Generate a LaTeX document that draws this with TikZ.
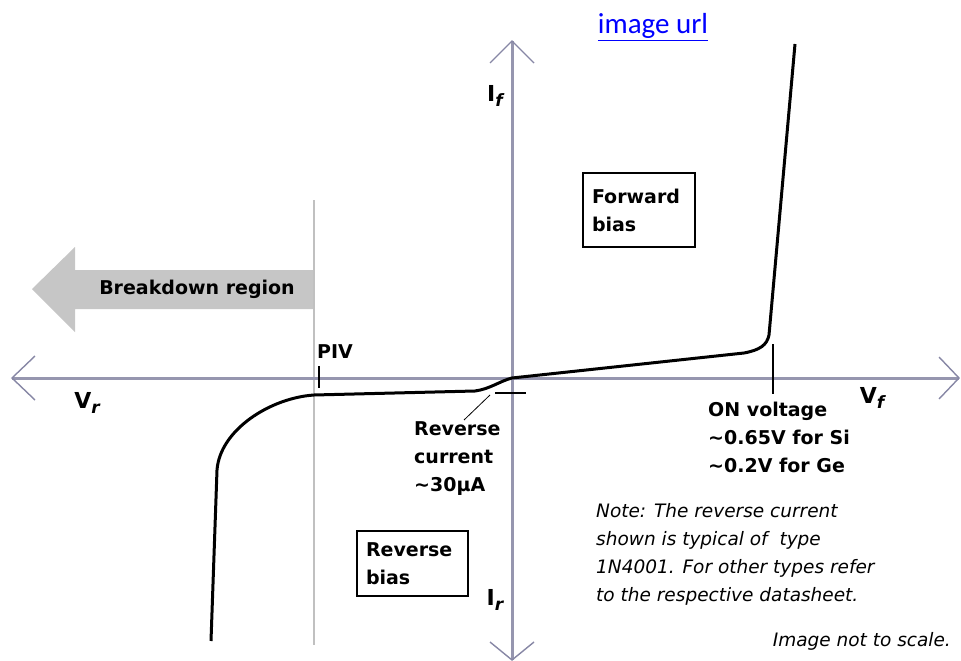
\documentclass[tikz,border=0pt]{standalone}
\usepackage{fontspec}
\setmainfont{DejaVu Sans}
\newfontfamily\linkfont{Carlito}
\definecolor{axisgray}{RGB}{150,150,175}
\definecolor{armgray}{RGB}{135,135,165}
\definecolor{pivgray}{RGB}{192,192,192}
\definecolor{bdgray}{RGB}{198,198,198}
\definecolor{linkblue}{RGB}{0,0,255}
\newcommand{\axlbl}[2]{#1\raisebox{-5pt}{\fontsize{17}{17}\selectfont\itshape #2}}
\begin{document}
\begin{tikzpicture}[x=1pt,y=1pt]
\tikzstyle{every node}+=[inner sep=0pt]
\tikzstyle{axis}=[draw=axisgray, line width=3pt]
\tikzstyle{arm}=[draw=armgray, line width=1.4pt]
\tikzstyle{lbl}=[font=\fontsize{19}{28}\selectfont\bfseries, align=left]
\tikzstyle{axtext}=[font=\fontsize{22}{24}\selectfont\bfseries]
\tikzstyle{notetext}=[font=\fontsize{18.5}{28}\selectfont\itshape, align=left]
\tikzstyle{biasbox}=[lbl, draw=black, line width=1.3pt, inner xsep=9pt]
\useasboundingbox (0,0) rectangle (961,-661);
% axis tips
\coordinate (vl) at (12,-378);
\coordinate (vr) at (959,-378);
\coordinate (it) at (512,-41);
\coordinate (ib) at (512,-660);
% breakdown arrow and PIV line
\fill [bdgray] (314,-270) -- (75,-270) -- (75,-247) -- (32,-289) -- (75,-332) -- (75,-309) -- (314,-309) -- cycle;
\draw (197,-289) node [lbl] (bd) {Breakdown region};
\draw [pivgray, line width=2.2pt] (314,-200) -- (314,-645);
% axes
\draw [axis] (vl) -- (vr);
\draw [axis] (ib) -- (it);
\draw [arm] (vl) ++(23,22) -- (vl) -- ++(23,-22);
\draw [arm] (vr) ++(-20,21) -- (vr) -- ++(-20,-21);
\draw [arm] (it) ++(-22,-22) -- (it) -- ++(22,-22);
\draw [arm] (ib) ++(-22,18) -- (ib) -- ++(22,18);
\draw (872,-398) node [axtext] (vf) {\axlbl{V}{f}};
\draw (87,-403) node [axtext] (vrl) {\axlbl{V}{r}};
\draw (495,-96) node [axtext] (ifl) {\axlbl{I}{f}};
\draw (495,-600) node [axtext] (irl) {\axlbl{I}{r}};
% characteristic
\draw [black, line width=3pt, line join=round] (211,-641) -- (217,-470) .. controls (220,-430) and (270,-398) .. (314,-395)
  -- (475,-391) .. controls (490,-389) and (500,-381) .. (512,-378)
  -- (744,-353) .. controls (760,-350) and (767,-345) .. (769,-335) -- (795,-44);
% ticks
\draw [black, line width=1.2pt] (319,-366) -- (319,-388);
\draw (317,-352) node [lbl, anchor=west] (piv) {PIV};
\draw [black, line width=1.2pt] (773,-344) -- (773,-394);
\draw (708,-437) node [lbl, anchor=west] (onv) {ON voltage\\\textasciitilde0.65V for Si\\\textasciitilde0.2V for Ge};
\draw [black, line width=1.2pt] (495,-393) -- (526,-393);
\coordinate (leadA) at (464,-420);
\coordinate (leadB) at (490,-395);
\draw [black, line width=0.8pt] (leadA) -- (leadB);
\draw (414,-459) node [lbl, anchor=west] (rc) {Reverse\\current\\\textasciitilde30µA};
% bias boxes
\draw (639,-210) node [biasbox, text width=94pt, minimum height=74pt] (fb) {Forward\\bias};
\draw (412.5,-563.5) node [biasbox, text width=93pt, minimum height=65pt] (rb) {Reverse\\bias};
% notes
\draw (596,-554) node [notetext, anchor=west] (note) {Note: The reverse current\\shown is typical of \ type\\1N4001. For other types refer\\to the respective datasheet.};
\draw (951,-641) node [notetext, anchor=east] (scl) {Image not to scale.};
\draw (653,-27) node [font=\linkfont\fontsize{29}{30}\selectfont, text=linkblue] (url) {\underline{image url}};
\end{tikzpicture}
\end{document}
